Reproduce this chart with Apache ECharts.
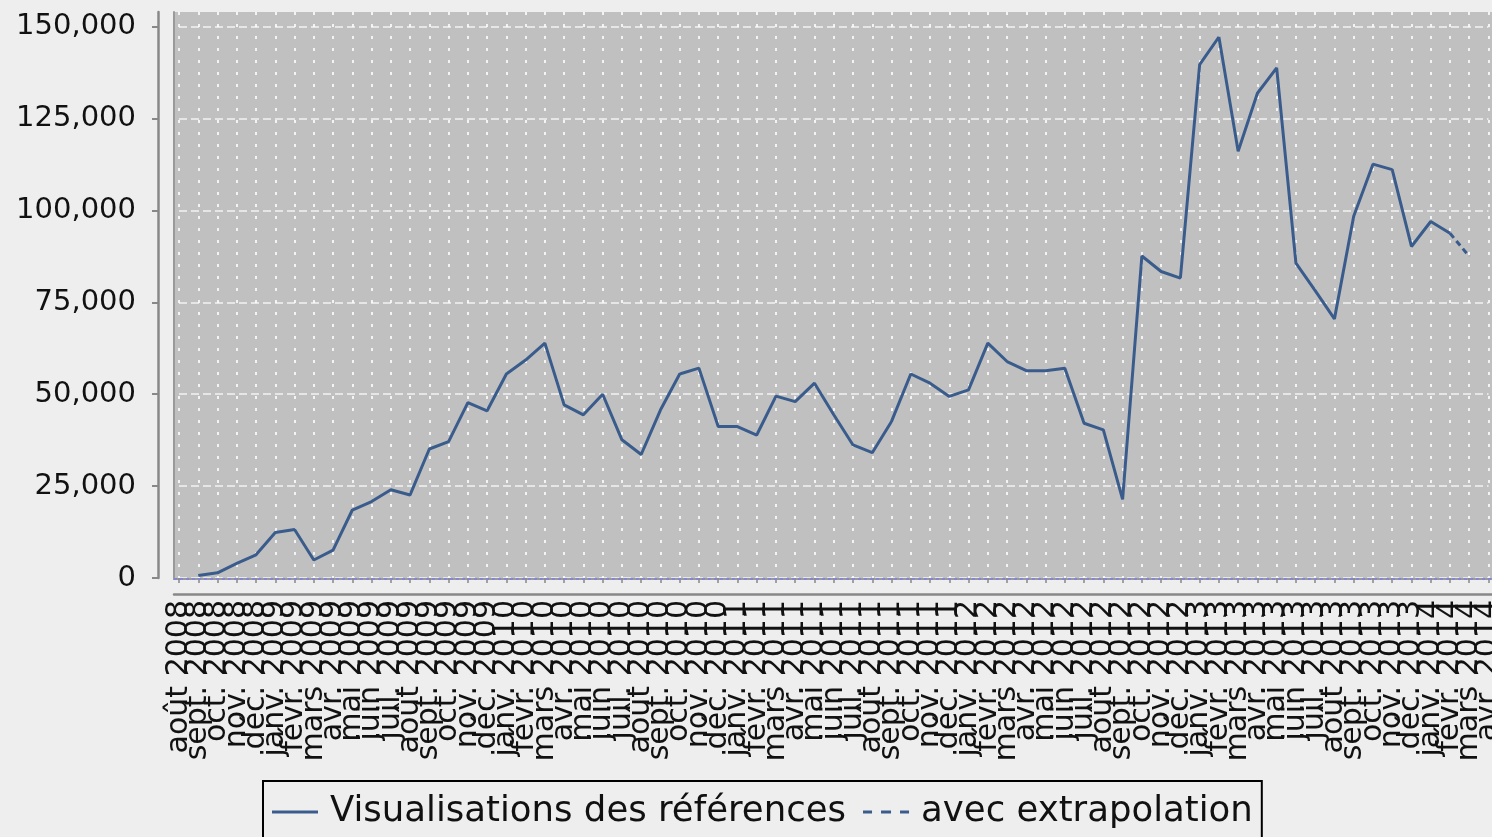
<!DOCTYPE html>
<html><head><meta charset="utf-8">
<script src="https://cdn.jsdelivr.net/npm/echarts@6/dist/echarts.min.js"></script>
<style>html,body{margin:0;padding:0;background:#eeeeee;} #c{width:1492px;height:837px;}</style>
</head><body><div id="c"></div>
<script>
const categories = [
  'août 2008','sept. 2008','oct. 2008','nov. 2008','déc. 2008',
  'janv. 2009','févr. 2009','mars 2009','avr. 2009','mai 2009','juin 2009','juil. 2009','août 2009','sept. 2009','oct. 2009','nov. 2009','déc. 2009',
  'janv. 2010','févr. 2010','mars 2010','avr. 2010','mai 2010','juin 2010','juil. 2010','août 2010','sept. 2010','oct. 2010','nov. 2010','déc. 2010',
  'janv. 2011','févr. 2011','mars 2011','avr. 2011','mai 2011','juin 2011','juil. 2011','août 2011','sept. 2011','oct. 2011','nov. 2011','déc. 2011',
  'janv. 2012','févr. 2012','mars 2012','avr. 2012','mai 2012','juin 2012','juil. 2012','août 2012','sept. 2012','oct. 2012','nov. 2012','déc. 2012',
  'janv. 2013','févr. 2013','mars 2013','avr. 2013','mai 2013','juin 2013','juil. 2013','août 2013','sept. 2013','oct. 2013','nov. 2013','déc. 2013',
  'janv. 2014','févr. 2014','mars 2014','avr. 2014'
];
const views = [
  null, 700, 1400, 4000, 6300,
  12400, 13200, 4900, 7600, 18500, 20800, 24000, 22600, 35100, 37100, 47700, 45500,
  55500, 59300, 63900, 47100, 44400, 50000, 37600, 33600, 45700, 55500, 57100, 41200,
  41200, 38900, 49500, 48000, 53000, 44400, 36200, 34100, 42600, 55500, 53000, 49400,
  51200, 63900, 58900, 56400, 56400, 57100, 42100, 40300, 21400, 87600, 83400, 81600,
  139700, 147200, 116100, 131900, 138800, 85700, 78200, 70500, 98400, 112600, 111100, 90200,
  97000, 93800, null, null
];
const extrapolated = [
  null, null, null, null, null,
  null, null, null, null, null, null, null, null, null, null, null, null,
  null, null, null, null, null, null, null, null, null, null, null, null,
  null, null, null, null, null, null, null, null, null, null, null, null,
  null, null, null, null, null, null, null, null, null, null, null, null,
  null, null, null, null, null, null, null, null, null, null, null, null,
  null, 93800, 87500, null
];
const yTicks = [0, 25000, 50000, 75000, 100000, 125000, 150000];
const yMax = 154000;
const seriesNames = ['Visualisations des références', 'avec extrapolation'];

const FONT = 'DejaVu Sans';
const LINE = '#3a5c8c';
const GRIDLINE = 'rgba(255,255,255,0.8)';
const chart = echarts.init(document.getElementById('c'));
chart.setOption({
  animation: false,
  backgroundColor: '#eeeeee',
  grid: [
    {left: 174, top: 12, width: 1319, height: 567, show: true, backgroundColor: '#c0c0c0', borderWidth: 0, z: -1, outerBoundsMode: 'none', containLabel: false},
    {left: 179, top: 12, width: 1309.5, height: 566, show: false, outerBoundsMode: 'none', containLabel: false}
  ],
  xAxis: [
    {gridIndex: 0, type: 'value', position: 'top', min: 0, max: 1,
     axisLine: {show: true, lineStyle: {color: '#9a9a9a', width: 2}},
     axisTick: {show: false}, axisLabel: {show: false}, splitLine: {show: false}},
    {gridIndex: 0, type: 'value', position: 'bottom', offset: 15, min: 0, max: 1,
     axisLine: {show: true, lineStyle: {color: '#888888', width: 2.5}},
     axisTick: {show: false}, axisLabel: {show: false}, splitLine: {show: false}},
    {gridIndex: 1, type: 'category', data: categories, boundaryGap: false, position: 'bottom', offset: 15,
     axisLine: {show: false},
     axisTick: {show: true, interval: 0, length: 5, lineStyle: {color: '#888888', width: 1.5}},
     axisLabel: {interval: 0, rotate: 90, margin: 7, fontFamily: FONT, fontSize: 30, color: '#111111', hideOverlap: false},
     splitLine: {show: true, interval: 0, lineStyle: {color: GRIDLINE, type: [3, 9], width: 2}}}
  ],
  yAxis: [
    {gridIndex: 0, type: 'value', min: 0, max: yMax, position: 'left',
     axisLine: {show: true, lineStyle: {color: '#9a9a9a', width: 2}},
     axisTick: {show: false}, axisLabel: {show: false}, splitLine: {show: false}},
    {gridIndex: 1, type: 'value', min: 0, max: yMax, interval: 25000, position: 'left', offset: 21,
     axisLine: {show: true, lineStyle: {color: '#888888', width: 2.5}},
     axisTick: {show: true, length: 6, lineStyle: {color: '#888888', width: 2}, customValues: yTicks},
     axisLabel: {margin: 22, customValues: yTicks, fontFamily: FONT, fontSize: 29, color: '#111111',
       formatter: v => Number(v).toLocaleString('en-US')},
     splitLine: {show: true, lineStyle: {color: GRIDLINE, type: [8, 4], width: 1.5}}}
  ],
  legend: {
    show: true, left: 263, top: 781, orient: 'horizontal',
    data: [
      {name: seriesNames[0], icon: 'path://M0 0h46v3H0z'},
      {name: seriesNames[1], icon: 'path://M0 0h9v3H0zM18 0h10v3H18zM37 0h9v3H37z'}
    ],
    itemWidth: 46, itemHeight: 3, itemGap: 17,
    padding: [13, 9, 13, 9],
    borderColor: '#000000', borderWidth: 2,
    itemStyle: {color: LINE, borderWidth: 0},
    textStyle: {fontFamily: FONT, fontSize: 35.5, color: '#111111', padding: [0, 0, 0, 7]}
  },
  series: [
    {name: seriesNames[0], type: 'line', xAxisIndex: 2, yAxisIndex: 1, data: views,
     symbol: 'none', showSymbol: false, connectNulls: false, z: 3,
     lineStyle: {color: LINE, width: 3}, itemStyle: {color: LINE}},
    {name: seriesNames[1], type: 'line', xAxisIndex: 2, yAxisIndex: 1, data: extrapolated,
     symbol: 'none', showSymbol: false, z: 3,
     lineStyle: {color: LINE, width: 3, type: [6, 4]}, itemStyle: {color: LINE}},
    {name: 'zero', type: 'line', xAxisIndex: 0, yAxisIndex: 0, data: [], z: 2,
     markLine: {silent: true, symbol: 'none', label: {show: false},
       lineStyle: {color: '#8585d8', type: [3, 3], width: 2}, data: [{yAxis: 0}]}}
  ]
});
</script></body></html>
